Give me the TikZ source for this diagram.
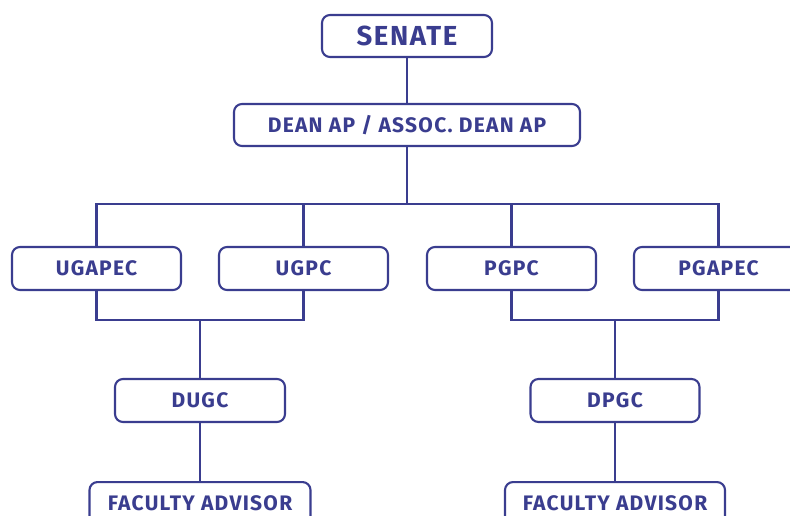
\documentclass[tikz,border=0pt]{standalone}
\usepackage{fontspec}
\setmainfont{Fira Sans}[LetterSpace=6]
\definecolor{navy}{HTML}{3A3D8F}
\begin{document}
\begin{tikzpicture}[x=1pt,y=-1pt,
  box/.style={draw=navy,line width=2.1pt,rounded corners=8pt,fill=white,text=navy,font=\bfseries\fontsize{21}{24}\selectfont,inner sep=0pt},
  conn/.style={draw=navy,line width=2.1pt}]
\useasboundingbox (0,0) rectangle (790,516);
\node[box,minimum width=170pt,minimum height=42pt,font=\bfseries\fontsize{27.5}{30}\selectfont] (senate) at (407,36) {SENATE};
\node[box,minimum width=346pt,minimum height=42pt] (dean) at (407,125) {DEAN AP / ASSOC. DEAN AP};
\node[box,minimum width=169pt,minimum height=43pt] (ugapec) at (96.5,268.5) {UGAPEC};
\node[box,minimum width=169pt,minimum height=43pt] (ugpc) at (303.5,268.5) {UGPC};
\node[box,minimum width=169pt,minimum height=43pt] (pgpc) at (511.5,268.5) {PGPC};
\node[box,minimum width=169pt,minimum height=43pt] (pgapec) at (718.5,268.5) {PGAPEC};
\node[box,minimum width=170pt,minimum height=43pt] (dugc) at (200,400.5) {DUGC};
\node[box,minimum width=169pt,minimum height=43pt] (dpgc) at (615,400.5) {DPGC};
\node[box,minimum width=221pt,minimum height=43pt,anchor=north] (fa1) at (200,481) {FACULTY ADVISOR};
\node[box,minimum width=220pt,minimum height=43pt,anchor=north] (fa2) at (615,481) {FACULTY ADVISOR};
\coordinate (bus) at (407,204);
\coordinate (lbus) at (200,320);
\coordinate (rbus) at (615,320);
\draw[conn] (senate) -- (dean);
\draw[conn] (dean) -- (bus);
\draw[conn] (ugapec.north) |- (bus) -| (pgapec.north);
\draw[conn] (ugpc.north) -- (ugpc.north |- bus);
\draw[conn] (pgpc.north) -- (pgpc.north |- bus);
\draw[conn] (ugapec.south) |- (lbus) -| (ugpc.south);
\draw[conn] (pgpc.south) |- (rbus) -| (pgapec.south);
\draw[conn] (lbus) -- (dugc);
\draw[conn] (rbus) -- (dpgc);
\draw[conn] (dugc) -- (fa1);
\draw[conn] (dpgc) -- (fa2);
\end{tikzpicture}
\end{document}
